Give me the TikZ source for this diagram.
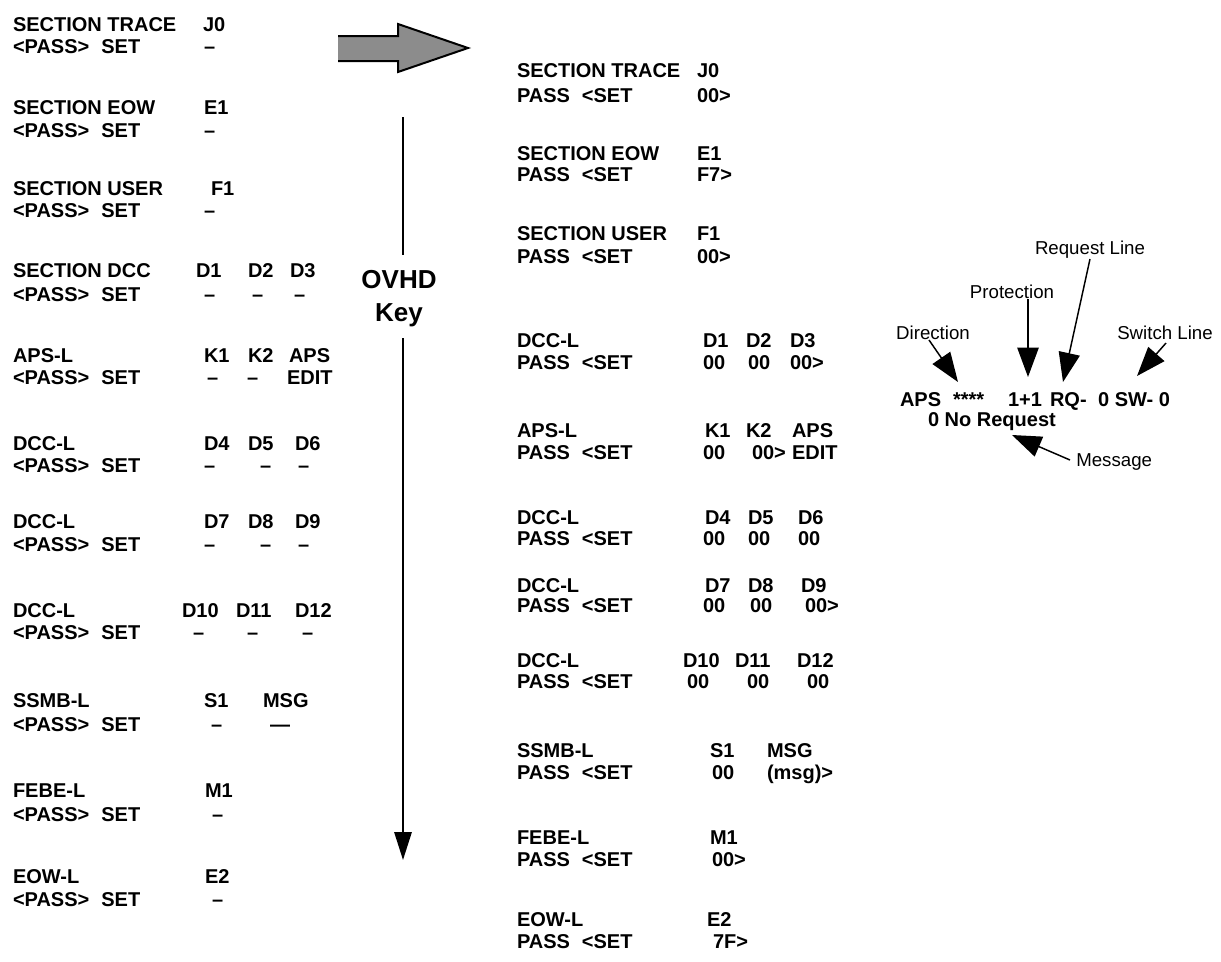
\documentclass[tikz,border=0pt]{standalone}
\usepackage{fontspec}
\setmainfont{Liberation Sans}
\usetikzlibrary{arrows.meta}
\begin{document}
\begin{tikzpicture}[x=0.75pt,y=-0.75pt,
  bt/.style={font=\bfseries\fontsize{15}{18}\selectfont, anchor=base west, inner sep=0pt, outer sep=0pt},
  ovhd/.style={font=\bfseries\fontsize{19.5}{22}\selectfont, anchor=base, inner sep=0pt},
  rt/.style={font=\fontsize{14}{17}\selectfont, inner sep=0pt},
  ann/.style={line width=1.1pt, -{Triangle[length=22pt,width=16pt]}},
  keyline/.style={line width=1.5pt},
  bigarrow/.style={fill=black!45},
]
\useasboundingbox (0,0) rectangle (1221,961);
\fill[white] (0,0) rectangle (1221,961);

% ---------------- left column ----------------
\node[bt] (a1t) at (13,31) {SECTION TRACE};
\node[bt] (a1c) at (203,31) {J0};
\node[bt] (a1p) at (13,53) {<PASS>\hspace{9pt}SET};
\node[bt] (a1v) at (204,53) {--};

\node[bt] (a2t) at (13,114) {SECTION EOW};
\node[bt] (a2c) at (204,114) {E1};
\node[bt] (a2p) at (13,137) {<PASS>\hspace{9pt}SET};
\node[bt] (a2v) at (204,137) {--};

\node[bt] (a3t) at (13,195) {SECTION USER};
\node[bt] (a3c) at (211,195) {F1};
\node[bt] (a3p) at (13,217) {<PASS>\hspace{9pt}SET};
\node[bt] (a3v) at (204,217) {--};

\node[bt] (a4t) at (13,277) {SECTION DCC};
\node[bt] (a4c1) at (196,277) {D1};
\node[bt] (a4c2) at (248,277) {D2};
\node[bt] (a4c3) at (290,277) {D3};
\node[bt] (a4p) at (13,301) {<PASS>\hspace{9pt}SET};
\node[bt] (a4v1) at (204,301) {--};
\node[bt] (a4v2) at (252,301) {--};
\node[bt] (a4v3) at (294,301) {--};

\node[bt] (a5t) at (13,362) {APS-L};
\node[bt] (a5c1) at (204,362) {K1};
\node[bt] (a5c2) at (248,362) {K2};
\node[bt] (a5c3) at (289,362) {APS};
\node[bt] (a5p) at (13,384) {<PASS>\hspace{9pt}SET};
\node[bt] (a5v1) at (207,384) {--};
\node[bt] (a5v2) at (247,384) {--};
\node[bt] (a5v3) at (287,384) {EDIT};

\node[bt] (a6t) at (13,450) {DCC-L};
\node[bt] (a6c1) at (204,450) {D4};
\node[bt] (a6c2) at (248,450) {D5};
\node[bt] (a6c3) at (295,450) {D6};
\node[bt] (a6p) at (13,472) {<PASS>\hspace{9pt}SET};
\node[bt] (a6v1) at (204,472) {--};
\node[bt] (a6v2) at (260,472) {--};
\node[bt] (a6v3) at (298,472) {--};

\node[bt] (a7t) at (13,528) {DCC-L};
\node[bt] (a7c1) at (204,528) {D7};
\node[bt] (a7c2) at (248,528) {D8};
\node[bt] (a7c3) at (295,528) {D9};
\node[bt] (a7p) at (13,551) {<PASS>\hspace{9pt}SET};
\node[bt] (a7v1) at (204,551) {--};
\node[bt] (a7v2) at (260,551) {--};
\node[bt] (a7v3) at (298,551) {--};

\node[bt] (a8t) at (13,617) {DCC-L};
\node[bt] (a8c1) at (182,617) {D10};
\node[bt] (a8c2) at (236,617) {D11};
\node[bt] (a8c3) at (295,617) {D12};
\node[bt] (a8p) at (13,639) {<PASS>\hspace{9pt}SET};
\node[bt] (a8v1) at (193,639) {--};
\node[bt] (a8v2) at (247,639) {--};
\node[bt] (a8v3) at (302,639) {--};

\node[bt] (a9t) at (13,707) {SSMB-L};
\node[bt] (a9c1) at (204,707) {S1};
\node[bt] (a9c2) at (263,707) {MSG};
\node[bt] (a9p) at (13,731) {<PASS>\hspace{9pt}SET};
\node[bt] (a9v1) at (211,731) {--};
\node[bt] (a9v2) at (270,731) {---};

\node[bt] (a10t) at (13,797) {FEBE-L};
\node[bt] (a10c) at (205,797) {M1};
\node[bt] (a10p) at (13,821) {<PASS>\hspace{9pt}SET};
\node[bt] (a10v) at (212,821) {--};

\node[bt] (a11t) at (13,883) {EOW-L};
\node[bt] (a11c) at (205,883) {E2};
\node[bt] (a11p) at (13,906) {<PASS>\hspace{9pt}SET};
\node[bt] (a11v) at (212,906) {--};

% ---------------- big arrow ----------------
\fill[bigarrow] (338,36) -- (398,36) -- (398,24) -- (468,48) -- (398,72) -- (398,61) -- (338,61) -- cycle;
\draw[line width=1.5pt, line join=miter] (338,36) -- (398,36) -- (398,24) -- (468,48) -- (398,72) -- (398,61) -- (338,61);

% ---------------- OVHD key ----------------
\node[ovhd] (ovhd) at (399,288) {OVHD};
\node[ovhd] (key) at (399,321) {Key};
\coordinate (k0) at (403,117);
\coordinate (k1) at (403,255);
\coordinate (k2) at (403,338);
\coordinate (k3) at (403,860);
\draw[keyline] (k0) -- (k1);
\draw[keyline, -{Triangle[length=21pt,width=13pt]}] (k2) -- (k3);

% ---------------- middle column ----------------
\node[bt] (b1t) at (517,77) {SECTION TRACE};
\node[bt] (b1c) at (697,77) {J0};
\node[bt] (b1p) at (517,102) {PASS\hspace{9pt}<SET};
\node[bt] (b1v) at (697,102) {00>};

\node[bt] (b2t) at (517,160) {SECTION EOW};
\node[bt] (b2c) at (697,160) {E1};
\node[bt] (b2p) at (517,181) {PASS\hspace{9pt}<SET};
\node[bt] (b2v) at (697,181) {F7>};

\node[bt] (b3t) at (517,240) {SECTION USER};
\node[bt] (b3c) at (697,240) {F1};
\node[bt] (b3p) at (517,263) {PASS\hspace{9pt}<SET};
\node[bt] (b3v) at (697,263) {00>};

\node[bt] (b4t) at (517,347) {DCC-L};
\node[bt] (b4c1) at (703,347) {D1};
\node[bt] (b4c2) at (746,347) {D2};
\node[bt] (b4c3) at (790,347) {D3};
\node[bt] (b4p) at (517,369) {PASS\hspace{9pt}<SET};
\node[bt] (b4v1) at (703,369) {00};
\node[bt] (b4v2) at (748,369) {00};
\node[bt] (b4v3) at (790,369) {00>};

\node[bt] (b5t) at (517,437) {APS-L};
\node[bt] (b5c1) at (705,437) {K1};
\node[bt] (b5c2) at (746,437) {K2};
\node[bt] (b5c3) at (792,437) {APS};
\node[bt] (b5p) at (517,459) {PASS\hspace{9pt}<SET};
\node[bt] (b5v1) at (703,459) {00};
\node[bt] (b5v2) at (752,459) {00>};
\node[bt] (b5v3) at (792,459) {EDIT};

\node[bt] (b6t) at (517,524) {DCC-L};
\node[bt] (b6c1) at (705,524) {D4};
\node[bt] (b6c2) at (748,524) {D5};
\node[bt] (b6c3) at (798,524) {D6};
\node[bt] (b6p) at (517,545) {PASS\hspace{9pt}<SET};
\node[bt] (b6v1) at (703,545) {00};
\node[bt] (b6v2) at (748,545) {00};
\node[bt] (b6v3) at (798,545) {00};

\node[bt] (b7t) at (517,592) {DCC-L};
\node[bt] (b7c1) at (705,592) {D7};
\node[bt] (b7c2) at (748,592) {D8};
\node[bt] (b7c3) at (801,592) {D9};
\node[bt] (b7p) at (517,612) {PASS\hspace{9pt}<SET};
\node[bt] (b7v1) at (703,612) {00};
\node[bt] (b7v2) at (750,612) {00};
\node[bt] (b7v3) at (805,612) {00>};

\node[bt] (b8t) at (517,667) {DCC-L};
\node[bt] (b8c1) at (683,667) {D10};
\node[bt] (b8c2) at (735,667) {D11};
\node[bt] (b8c3) at (797,667) {D12};
\node[bt] (b8p) at (517,688) {PASS\hspace{9pt}<SET};
\node[bt] (b8v1) at (687,688) {00};
\node[bt] (b8v2) at (747,688) {00};
\node[bt] (b8v3) at (807,688) {00};

\node[bt] (b9t) at (517,757) {SSMB-L};
\node[bt] (b9c1) at (710,757) {S1};
\node[bt] (b9c2) at (767,757) {MSG};
\node[bt] (b9p) at (517,779) {PASS\hspace{9pt}<SET};
\node[bt] (b9v1) at (712,779) {00};
\node[bt] (b9v2) at (767,779) {(msg)>};

\node[bt] (b10t) at (517,844) {FEBE-L};
\node[bt] (b10c) at (710,844) {M1};
\node[bt] (b10p) at (517,866) {PASS\hspace{9pt}<SET};
\node[bt] (b10v) at (712,866) {00>};

\node[bt] (b11t) at (517,926) {EOW-L};
\node[bt] (b11c) at (707,926) {E2};
\node[bt] (b11p) at (517,948) {PASS\hspace{9pt}<SET};
\node[bt] (b11v) at (713,948) {7F>};

% ---------------- APS annotation ----------------
\node[rt] (reqline) at (1090,250) {Request Line};
\node[rt] (prot) at (1012,292) {Protection};
\node[rt] (dir) at (933,333) {Direction};
\node[rt] (swline) at (1165,333) {Switch Line};
\node[rt, anchor=west] (msg) at (1076,462) {Message};

\node[bt] (apsA) at (900,406) {APS};
\node[bt] (apsB) at (953,406) {****};
\node[bt] (apsC) at (1008,406) {1+1};
\node[bt] (apsD) at (1050,406) {RQ-};
\node[bt, anchor=base east] (apsE) at (1170,406) {0 SW- 0};
\node[bt] (apsF) at (928,426) {0 No Request};

\coordinate (dirT) at (929,340);
\coordinate (dirH) at (958,382);
\coordinate (protT) at (1028,305);
\coordinate (protH) at (1028,377);
\coordinate (reqT) at (1090,262);
\coordinate (reqH) at (1063,382);
\coordinate (swT) at (1166,343);
\coordinate (swH) at (1137,376);
\coordinate (msgT) at (1070,460);
\coordinate (msgH) at (1012,435);

\draw[ann] (dirT) -- (dirH);
\draw[ann] (prot.south -| protT) -- (protH);
\draw[ann] (reqline.south -| reqT) -- (reqH);
\draw[ann] (swT) -- (swH);
\draw[ann] (msgT) -- (msgH);
\end{tikzpicture}
\end{document}
